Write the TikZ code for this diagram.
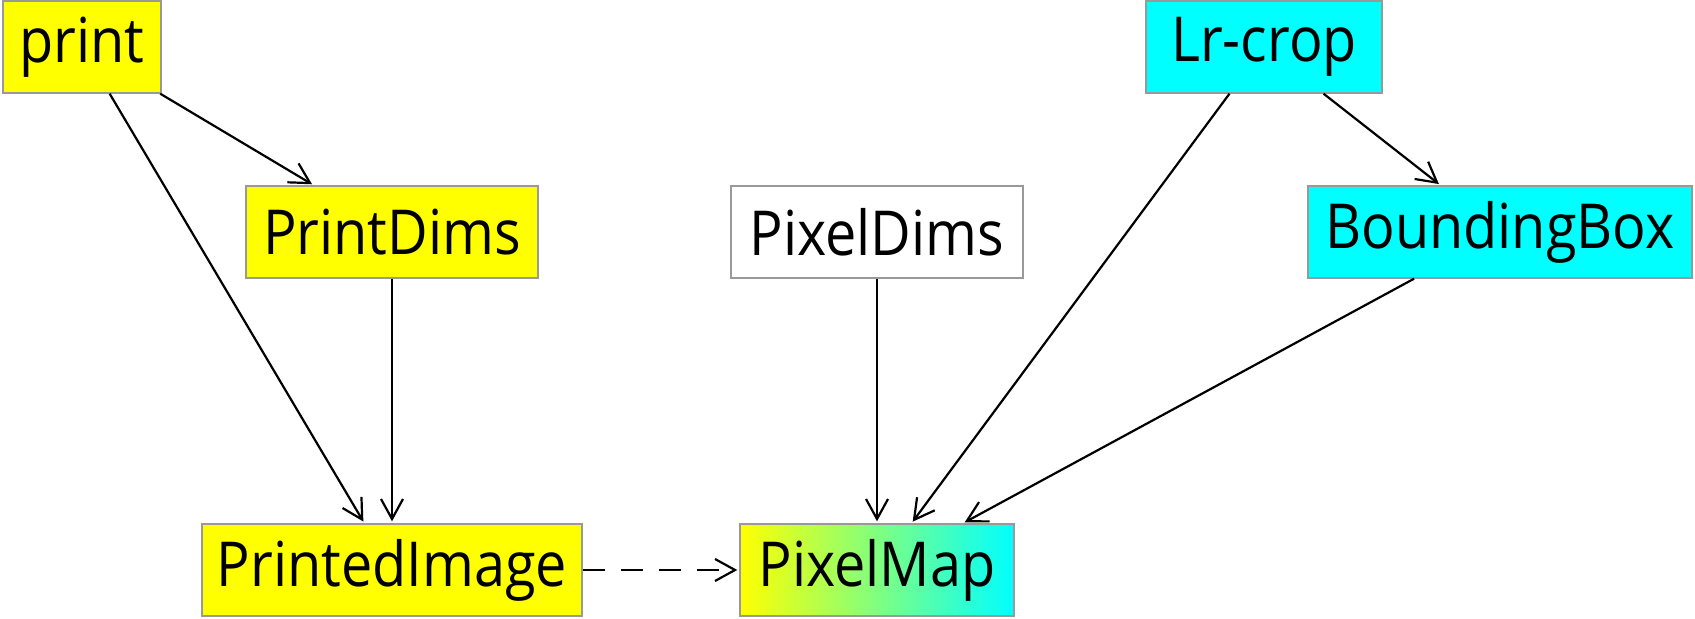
\documentclass[tikz,border=0pt]{standalone}
\usepackage{fontspec}
\setmainfont{Open Sans}[FakeStretch=0.9]
\usetikzlibrary{arrows.meta}
\definecolor{yel}{RGB}{255,255,0}
\definecolor{aqua}{RGB}{0,255,255}
\begin{document}
\begin{tikzpicture}[x=0.5pt,y=-0.5pt,
	box/.style={rectangle, draw=gray!80, line width=0.7pt, minimum height=46pt, inner xsep=0pt, font=\fontsize{31}{36}\selectfont},
	edge/.style={-{Straight Barb[length=10pt,width=11pt]}, line width=1.1pt, shorten >=1pt}]
	\useasboundingbox (0,0) rectangle (1695,619);
	\node (print) at (  82, 47)	[box, fill = yel, minimum width=79pt]	{print};
	\node (PD)    at ( 392,232)	[box, fill = yel, minimum width=146pt]	{PrintDims};
	\node (XD)    at ( 877,232)	[box, fill = white, minimum width=146pt]	{PixelDims};
	\node (LR)    at (1264, 47)	[box, fill = aqua, minimum width=118pt]	{Lr-crop};
	\node (BB)    at (1500,232)	[box, fill = aqua, minimum width=192pt]	{BoundingBox};
	\node (PI)    at ( 392,570)	[box, fill = yel, minimum width=190pt]	{PrintedImage};
	\node (PM)    at ( 877,570)	[box, left color = yel, right color = aqua, minimum width=137pt]	{PixelMap};
	\draw[edge] (print) -- (PD);
	\draw[edge] (print) -- (PI);
	\draw[edge] (PD) -- (PI);
	\draw[edge] (XD) -- (PM);
	\draw[edge] (LR) -- (PM);
	\draw[edge] (LR) -- (BB);
	\draw[edge] (BB) -- (PM);
	\draw[edge, dashed, dash pattern=on 11pt off 8pt] (PI) -- (PM);
\end{tikzpicture}
\end{document}
